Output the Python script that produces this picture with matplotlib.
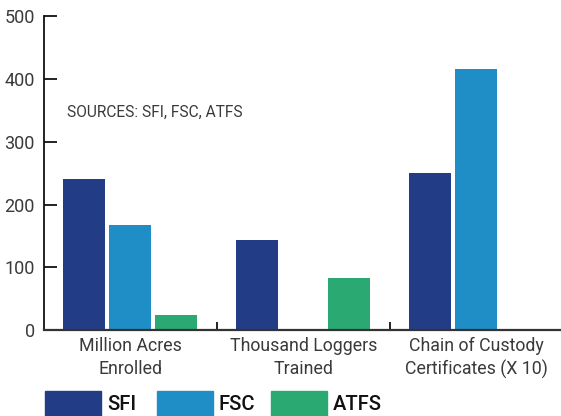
import matplotlib
matplotlib.use("Agg")
import matplotlib.pyplot as plt
from matplotlib.patches import Rectangle
import numpy as np

# data
categories = ["Million Acres\nEnrolled", "Thousand Loggers\nTrained", "Chain of Custody\nCertificates (X 10)"]
series = ["SFI", "FSC", "ATFS"]
sfi = [241, 144, 250]
fsc = [168, 0, 416]
atfs = [24, 83, 0]
colours = ["#233c86", "#1f8dc6", "#2ba973"]
y_ticks = [0, 100, 200, 300, 400, 500]

plt.rcParams['font.family'] = ['Roboto', 'DejaVu Sans']

fig = plt.figure(figsize=(5.61, 4.16), dpi=100)
ax = fig.add_axes([44 / 561, 86 / 416, 1 - 44 / 561, (330 - 16.5) / 416])

x = np.arange(len(categories))
step = 46 / 173
width = 42 / 173
for i, vals in enumerate([sfi, fsc, atfs]):
    h = [v if v > 0 else np.nan for v in vals]
    ax.bar(x + (i - 1) * step, h, width=width, color=colours[i], label=series[i])

ax.set_xlim(-0.5, 2.49)
ax.set_ylim(0, 500)
ax.set_yticks(y_ticks)
ax.set_yticklabels([str(t) for t in y_ticks])

ax.set_xticks(x)
ax.set_xticklabels(categories, linespacing=1.35)
ax.set_xticks([0.5, 1.5], minor=True)

ax.tick_params(axis='y', direction='in', length=9.5, width=1.3, pad=6.5,
               labelsize=13, labelcolor='#3a3a3a', color='#111111')
ax.tick_params(axis='x', which='major', length=0, pad=5,
               labelsize=12.8, labelcolor='#3a3a3a')
ax.tick_params(axis='x', which='minor', direction='in', length=6, width=1.3, color='#111111')

ax.spines['top'].set_visible(False)
ax.spines['right'].set_visible(False)
ax.spines['left'].set_linewidth(1.3)
ax.spines['left'].set_color('#111111')
ax.spines['bottom'].set_linewidth(1.6)
ax.spines['bottom'].set_color('#333333')

fig.text(67 / 561, 1 - 112 / 416, "SOURCES: SFI, FSC, ATFS", fontsize=11.2,
         color='#3a3a3a', va='center', ha='left')

# legend along the bottom edge
patch_x = [45, 157, 271]
for i, name in enumerate(series):
    fig.patches.append(Rectangle((patch_x[i] / 561, 0), 56 / 561, 25.5 / 416,
                                 transform=fig.transFigure, color=colours[i]))
    fig.text((patch_x[i] + 62) / 561, 1 - 405 / 416, name, fontsize=14.5,
             fontweight='medium', color='#111111', va='center', ha='left')

fig.savefig("out.png", dpi=100)
